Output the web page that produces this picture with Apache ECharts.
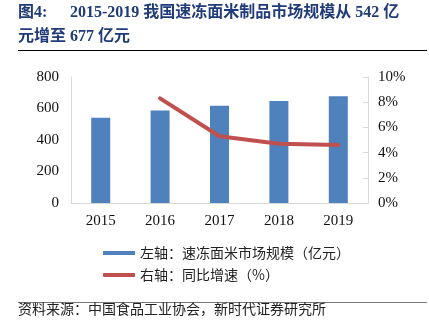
<!DOCTYPE html>
<html><head><meta charset="utf-8">
<script src="https://cdn.jsdelivr.net/npm/echarts@6/dist/echarts.min.js"></script>
<style>html,body{margin:0;padding:0;background:#fff}#c{width:429px;height:325px}</style>
</head><body><div id="c"></div>
<script>
const categories = ['2015','2016','2017','2018','2019'];
const marketSize = [542, 587, 618, 647, 677];
const growth = [null, 8.3, 5.3, 4.7, 4.6];
const leftTicks = [0, 200, 400, 600, 800];
const rightTicks = ['0%','2%','4%','6%','8%','10%'];
const barName = '左轴：速冻面米市场规模（亿元）';
const lineName = '右轴：同比增速（%）';

const chart = echarts.init(document.getElementById('c'), null, {renderer:'canvas'});
const serif = '"Liberation Serif", "Times New Roman", serif';
const cjk = '"Liberation Serif", "Noto Sans CJK SC", sans-serif';
const navy = '#1F3B7A';
chart.setOption({
  animation: false,
  backgroundColor: '#fff',
  graphic: [
    {type:'text', left:18, top:5, style:{text:'图4:', font:'bold 16px ' + cjk, fill:navy}},
    {type:'text', left:70, top:5, style:{text:'2015-2019 我国速冻面米制品市场规模从 542 亿', font:'bold 16px ' + cjk, fill:navy}},
    {type:'text', left:18, top:29, style:{text:'元增至 677 亿元', font:'bold 16px ' + cjk, fill:navy}},
    {type:'line', shape:{x1:18, y1:50.5, x2:427, y2:50.5}, style:{stroke:'#000', lineWidth:1}},
    {type:'line', shape:{x1:18, y1:302.5, x2:427, y2:302.5}, style:{stroke:'#777', lineWidth:1}},
    {type:'text', left:18, top:302, style:{text:'资料来源：中国食品工业协会，新时代证券研究所', font:'14px "Noto Sans CJK SC", sans-serif', fill:'#222'}}
  ],
  legend: {
    orient:'vertical', left:98, top:241, itemWidth:32, itemHeight:4, itemGap:8,
    textStyle:{fontFamily:'"Noto Sans CJK SC", sans-serif', fontSize:14, color:'#222'},
    data:[{name:barName, icon:'rect'}, {name:lineName, icon:'roundRect'}]
  },
  grid: {left:71, right:61, top:77, bottom:122},
  xAxis: {
    type:'category', data:categories,
    axisLine:{lineStyle:{color:'#D9D9D9'}}, axisTick:{show:false},
    axisLabel:{fontFamily:serif, fontSize:15, color:'#111', margin:11}
  },
  yAxis: [
    {type:'value', min:0, max:800, interval:200, position:'left',
     axisLine:{show:true, lineStyle:{color:'#D9D9D9'}}, axisTick:{show:false}, splitLine:{show:false},
     axisLabel:{fontFamily:serif, fontSize:15, color:'#111', margin:12,
       formatter:(v)=> leftTicks.includes(v) ? String(v) : ''}},
    {type:'value', min:0, max:10, interval:2, position:'right',
     axisLine:{show:true, lineStyle:{color:'#D9D9D9'}}, axisTick:{show:true, inside:true, length:5, lineStyle:{color:'#D9D9D9'}}, splitLine:{show:false},
     axisLabel:{fontFamily:serif, fontSize:15, color:'#111', margin:10,
       formatter:(v)=> rightTicks[Math.round(v/2)] }}
  ],
  series: [
    {name:barName, type:'bar', data:marketSize, barWidth:'32%', yAxisIndex:0,
     itemStyle:{color:'#4F81BD'}},
    {name:lineName, type:'line', data:growth, yAxisIndex:1, symbol:'none',
     lineStyle:{color:'#C0504D', width:4, cap:'round', join:'round'}, itemStyle:{color:'#C0504D'}}
  ]
});
</script></body></html>
